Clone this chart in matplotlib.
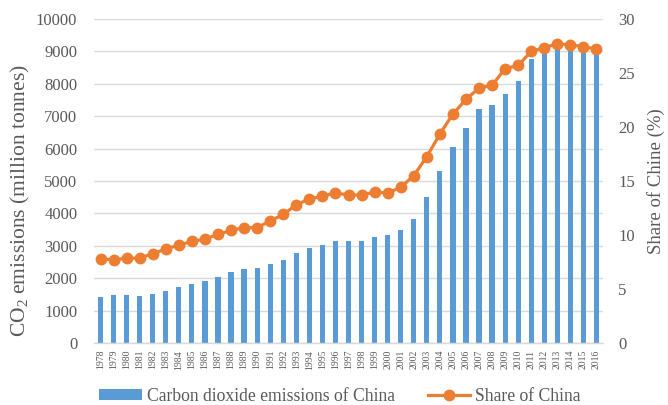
import matplotlib
matplotlib.use("Agg")
import matplotlib.pyplot as plt
from matplotlib.lines import Line2D
from matplotlib.patches import Patch

years = list(range(1978, 2017))
emissions = [1420, 1480, 1480, 1450, 1510, 1600, 1730, 1820, 1910, 2040,
             2190, 2280, 2310, 2440, 2560, 2780, 2930, 3020, 3150, 3150,
             3150, 3270, 3330, 3490, 3830, 4500, 5310, 6050, 6640, 7220,
             7340, 7680, 8090, 8770, 9050, 9150, 9150, 9100, 9100]
share = [7.8, 7.7, 7.85, 7.85, 8.27, 8.7, 9.07, 9.4, 9.63, 10.06,
         10.43, 10.68, 10.68, 11.3, 11.9, 12.8, 13.33, 13.6, 13.9, 13.7,
         13.7, 13.97, 13.9, 14.4, 15.5, 17.25, 19.35, 21.2, 22.56, 23.6,
         23.86, 25.4, 25.7, 27.0, 27.35, 27.7, 27.6, 27.45, 27.2]

blue = "#5B9BD5"
orange = "#ED7D31"
gray = "#595959"
plt.rcParams["font.family"] = ["Liberation Serif", "DejaVu Serif"]
plt.rcParams["mathtext.fontset"] = "custom"
plt.rcParams["mathtext.rm"] = "Liberation Serif"

fig = plt.figure(figsize=(6.68, 4.05), dpi=100)
ax = fig.add_axes([94 / 668, 62 / 405, 509 / 668, 324 / 405])
x = list(range(len(years)))

ax.bar(x, emissions, width=0.4, color=blue, zorder=2)
ax.set_xlim(-0.5, len(years) - 0.5)
ax.set_ylim(0, 10000)
ax.set_yticks(range(0, 10001, 1000))
ax.grid(axis="y", color="#D9D9D9", linewidth=1.0, zorder=0)
ax.set_axisbelow(True)
for s in ["top", "right", "left"]:
    ax.spines[s].set_visible(False)
ax.spines["bottom"].set_color("#D9D9D9")
ax.spines["bottom"].set_linewidth(1.0)
ax.set_xticks(x)
ax.set_xticklabels([str(y) for y in years], rotation=90, fontsize=7, color=gray)
ax.tick_params(axis="both", length=0, colors=gray)
ax.tick_params(axis="x", pad=5)
ax.tick_params(axis="y", labelsize=12, pad=12)
ax.set_ylabel(r"CO$\mathrm{_2}$ emissions (million tonnes)", fontsize=15.5, color=gray)
ax.yaxis.set_label_coords(-0.121, 0.44)

ax2 = ax.twinx()
ax2.plot(x, share, color=orange, linewidth=2.3, marker="o", markersize=7.5, zorder=3)
ax2.set_ylim(0, 30)
ax2.set_yticks(range(0, 31, 5))
for s in ["top", "right", "left", "bottom"]:
    ax2.spines[s].set_visible(False)
ax2.tick_params(axis="y", length=0, labelsize=12, colors=gray, pad=11)
ax2.set_ylabel("Share of Chine (%)", fontsize=13.5, color=gray, labelpad=9)

handles = [Patch(facecolor=blue, edgecolor="none"),
           Line2D([0], [0], color=orange, linewidth=2.3, marker="o", markersize=7.5)]
fig.legend(handles, ["Carbon dioxide emissions of China", "Share of China"],
           loc="center", bbox_to_anchor=(0.509, 0.022), ncol=2, frameon=False,
           fontsize=12.7, labelcolor=gray, handlelength=2.4, columnspacing=1.9,
           handletextpad=0.28, handleheight=0.55, borderpad=0)

fig.savefig("out.png", dpi=100)
